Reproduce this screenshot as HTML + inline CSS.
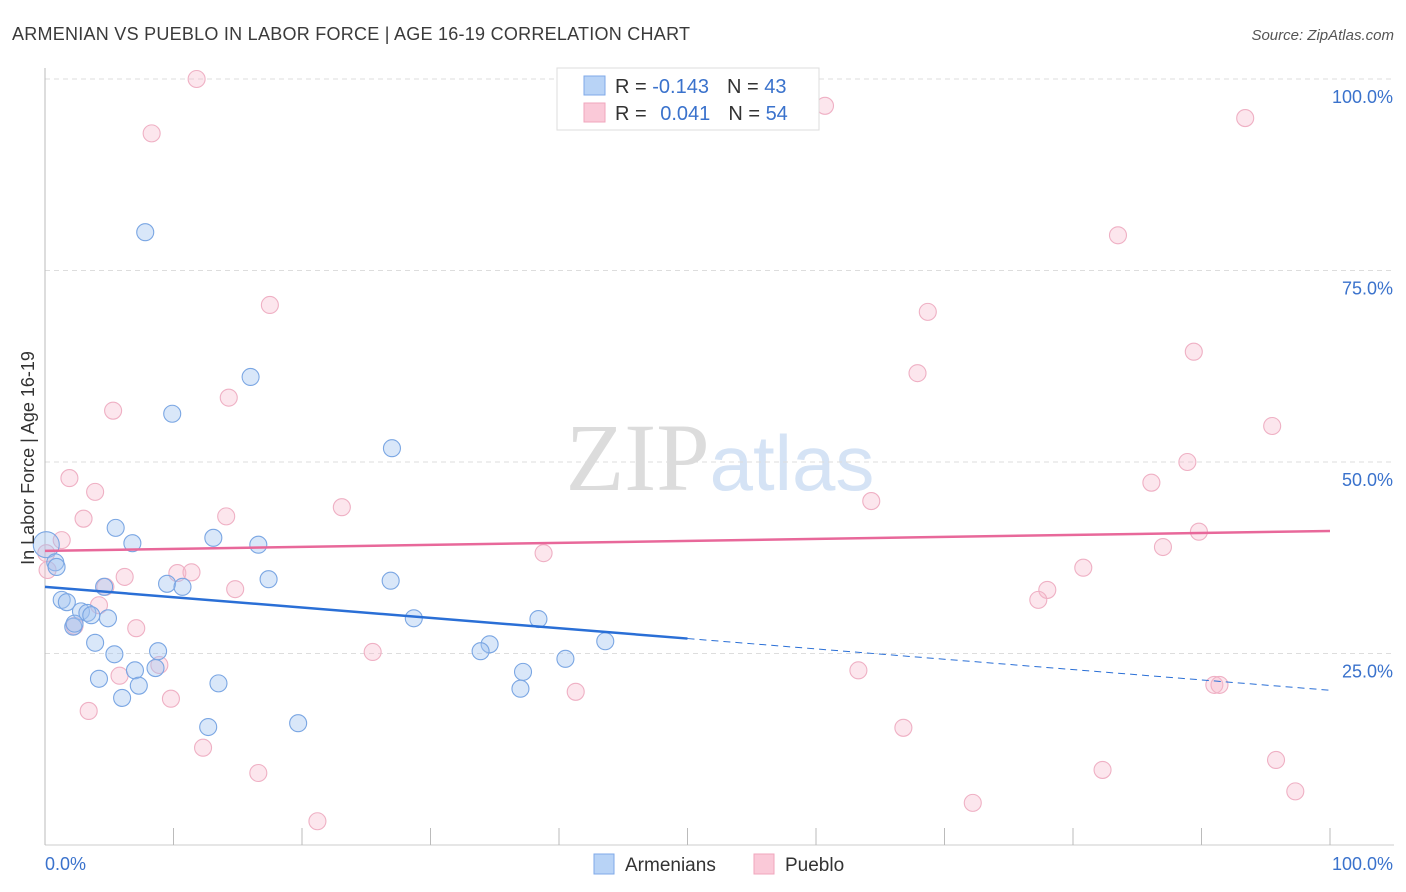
<!DOCTYPE html>
<html><head><meta charset="utf-8"><style>
body{margin:0;background:#fff;font-family:"Liberation Sans",sans-serif}
</style></head><body>
<svg id="chart" width="1406" height="892" xmlns="http://www.w3.org/2000/svg" style="display:block">
<text x="12" y="40" font-size="18" fill="#3a3a3a" textLength="678">ARMENIAN VS PUEBLO IN LABOR FORCE | AGE 16-19 CORRELATION CHART</text>
<text x="1394" y="40" font-size="15" fill="#555" font-style="italic" text-anchor="end">Source: ZipAtlas.com</text>
<text x="720" y="490" font-size="96" text-anchor="middle"><tspan fill="#dcdcdc" font-family="Liberation Serif">ZIP</tspan><tspan fill="#d5e3f5" font-size="78">atlas</tspan></text>
<g id="grid"></g>
<g id="axes"></g>
<g id="marks"></g>
<text transform="translate(34,458) rotate(-90)" font-size="18" fill="#333" text-anchor="middle">In Labor Force | Age 16-19</text>
<g>
<rect x="557" y="68" width="262" height="62" fill="#fff" stroke="#ddd"/>
<rect x="584" y="76" width="21" height="19" fill="#b8d3f6" stroke="#7faae8"/>
<rect x="584" y="103" width="21" height="19" fill="#fac9d8" stroke="#f0a6bd"/>
<text x="615" y="93" font-size="20" fill="#333">R = <tspan fill="#3a72cc">-0.143</tspan><tspan dx="18">N = </tspan><tspan fill="#3a72cc">43</tspan></text>
<text x="615" y="120" font-size="20" fill="#333">R = <tspan fill="#3a72cc" dx="8">0.041</tspan><tspan dx="18">N = </tspan><tspan fill="#3a72cc">54</tspan></text>
</g>
<g>
<rect x="594" y="854" width="20" height="20" fill="#b8d3f6" stroke="#7faae8"/>
<text x="625" y="871" font-size="19" fill="#333">Armenians</text>
<rect x="754" y="854" width="20" height="20" fill="#fac9d8" stroke="#f0a6bd"/>
<text x="785" y="871" font-size="19" fill="#333">Pueblo</text>
</g>
</svg>
<script>
const yTicks=[25,50,75,100];
const yTickLabels=["25.0%","50.0%","75.0%","100.0%"];
const blueX=[7.8,16.0,9.9,27.0,5.5,6.8,13.1,16.6,0.1,0.8,0.9,4.6,9.5,10.7,17.4,26.9,1.3,1.7,2.8,3.3,3.6,4.9,2.2,2.3,3.9,5.4,8.8,7.0,8.6,4.2,13.5,7.3,6.0,12.7,19.7,28.7,38.4,34.6,33.9,37.2,37.0,40.5,43.6];
const blueY=[80.0,61.1,56.3,51.8,41.4,39.4,40.1,39.2,39.2,36.9,36.3,33.7,34.1,33.7,34.7,34.5,32.0,31.7,30.5,30.3,30.0,29.6,28.5,28.9,26.4,24.9,25.3,22.8,23.1,21.7,21.1,20.8,19.2,15.4,15.9,29.6,29.5,26.2,25.3,22.6,20.4,24.3,26.6];
const pinkX=[11.8,8.3,60.7,93.4,83.5,17.5,68.7,89.4,67.9,5.3,14.3,95.5,1.9,88.9,3.9,86.1,64.3,23.1,3.0,14.1,1.3,89.8,87.0,38.8,0.1,0.2,6.2,10.3,11.4,80.8,78.0,77.3,14.8,4.7,4.2,2.3,7.1,25.5,8.9,5.8,63.3,41.3,91.0,91.4,9.8,3.4,66.8,12.3,16.6,82.3,95.8,72.2,97.3,21.2];
const pinkY=[100,92.9,96.5,94.9,79.6,70.5,69.6,64.4,61.6,56.7,58.4,54.7,47.9,50.0,46.1,47.3,44.9,44.1,42.6,42.9,39.8,40.9,38.9,38.1,38.1,35.9,35.0,35.5,35.6,36.2,33.3,32.0,33.4,33.7,31.3,28.6,28.3,25.2,23.5,22.1,22.8,20.0,20.9,20.9,19.1,17.5,15.3,12.7,9.4,9.8,11.1,5.5,7.0,3.1];
const blueTrend=[33.7,20.2], pinkTrend=[38.4,41.0];
const NS="http://www.w3.org/2000/svg";
const X=v=>45+v*12.85, Y=v=>845-v*7.66;
function mk(t,a,p){const e=document.createElementNS(NS,t);for(const k in a)e.setAttribute(k,a[k]);p.appendChild(e);return e;}
const grid=document.getElementById('grid'),axes=document.getElementById('axes'),marks=document.getElementById('marks');
yTicks.forEach((t,i)=>{
 const l=mk('line',{x1:45,x2:1394,y1:Y(t),y2:Y(t),stroke:'#ddd','stroke-dasharray':'5,4'},grid);
 
 
 const tx=mk('text',{x:1393,y:Y(t)+24,'font-size':18,fill:'#3a72cc','text-anchor':'end'},axes);
 tx.textContent=yTickLabels[i];
 
 
});
mk('line',{x1:45,x2:45,y1:68,y2:845,stroke:'#bbb'},axes);
mk('line',{x1:45,x2:1394,y1:845,y2:845,stroke:'#ccc'},axes);
for(let i=0;i<=10;i++){mk('line',{x1:X(i*10),x2:X(i*10),y1:828,y2:845,stroke:'#bbb'},axes);}
const x0=mk('text',{x:45,y:870,'font-size':18,fill:'#3a72cc'},axes);x0.textContent='0.0%';


const x1=mk('text',{x:1393,y:870,'font-size':18,fill:'#3a72cc','text-anchor':'end'},axes);x1.textContent='100.0%';


pinkX.forEach((v,i)=>{const c=mk('circle',{cx:X(v),cy:Y(pinkY[i]),r:8.5,fill:'rgba(246,182,202,0.35)',stroke:'#efb0c4','stroke-width':1.1},marks);
 
 });
blueX.forEach((v,i)=>{const c=mk('circle',{cx:X(v),cy:Y(blueY[i]),r:i==8?13:8.5,fill:'rgba(160,196,240,0.4)',stroke:'#7aa6e3','stroke-width':1.1},marks);
 
 });
const bm=blueTrend[0]+(blueTrend[1]-blueTrend[0])*0.5;
const b1=mk('line',{x1:X(0),y1:Y(blueTrend[0]),x2:X(50),y2:Y(bm),stroke:'#2a6fd6','stroke-width':2.5},marks);


const b2=mk('line',{x1:X(50),y1:Y(bm),x2:X(100),y2:Y(blueTrend[1]),stroke:'#2a6fd6','stroke-width':1,'stroke-dasharray':'7,5'},marks);


const p1=mk('line',{x1:X(0),y1:Y(pinkTrend[0]),x2:X(100),y2:Y(pinkTrend[1]),stroke:'#e8689a','stroke-width':2.5},marks);


</script>
</body></html>
